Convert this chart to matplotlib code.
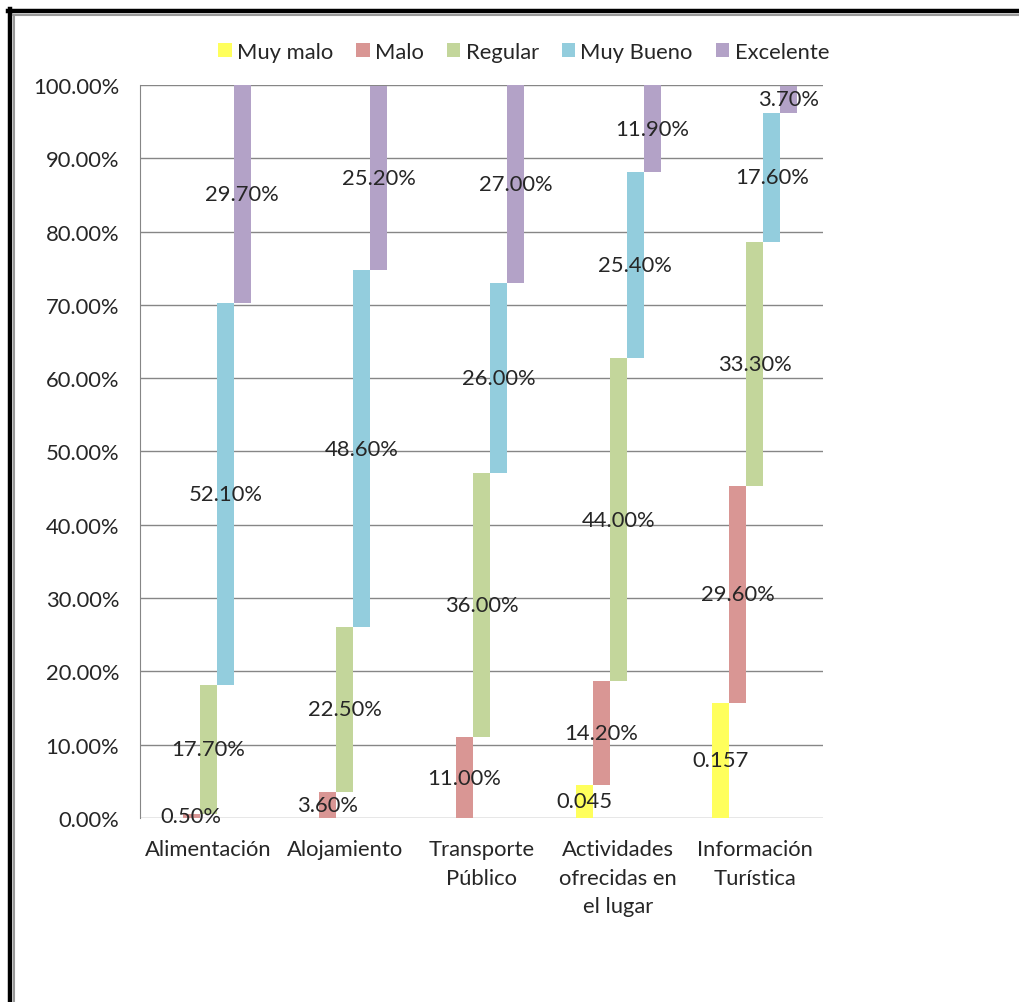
import numpy as np
import matplotlib.pyplot as plt
from matplotlib.lines import Line2D
from matplotlib.patches import Patch

plt.rcParams['font.family'] = ['Lato', 'DejaVu Sans']

# data
categorias = ["Alimentación", "Alojamiento", "Transporte\nPúblico",
              "Actividades\nofrecidas en\nel lugar", "Información\nTurística"]
series = ["Muy malo", "Malo", "Regular", "Muy Bueno", "Excelente"]
muy_malo = [0.0, 0.0, 0.0, 4.5, 15.7]
malo = [0.5, 3.6, 11.0, 14.2, 29.6]
regular = [17.7, 22.5, 36.0, 44.0, 33.3]
muy_bueno = [52.1, 48.6, 26.0, 25.4, 17.6]
excelente = [29.7, 25.2, 27.0, 11.9, 3.7]
colores = ["#FFFF5C", "#D99694", "#C3D69B", "#93CDDD", "#B3A2C7"]
yticks = np.arange(0, 101, 10)

FS = 15.8
TXT = "#262626"


def etiqueta(v, j):
    # the first series shows raw fractions, the rest as percent
    if j == 0:
        return f"{v / 100:g}"
    return f"{v:.2f}%"


def main():
    fig = plt.figure(figsize=(10.19, 10.03), dpi=100)
    ax = fig.add_axes([0.1374, 0.1835, 0.6703, 0.7308])

    datos = [muy_malo, malo, regular, muy_bueno, excelente]
    x = np.arange(len(categorias))
    w = 0.1245
    base = np.zeros(len(categorias))
    for j, vals in enumerate(datos):
        vals = np.array(vals)
        pos = x + (j - 2) * w
        ax.bar(pos, vals, w, bottom=base, color=colores[j], zorder=3)
        for i in range(len(vals)):
            if vals[i] > 0:
                ax.text(pos[i], base[i] + vals[i] / 2, etiqueta(vals[i], j),
                        ha="center", va="center", fontsize=FS, color=TXT, zorder=4)
        base = base + vals

    ax.set_xlim(-0.5, 4.5)
    ax.set_ylim(0, 100)
    ax.set_yticks(yticks)
    ax.set_yticklabels([f"{v:.2f}%" for v in yticks], fontsize=FS, color=TXT)
    ax.set_xticks(x)
    ax.set_xticklabels(categorias, fontsize=FS, color=TXT, linespacing=1.55)
    ax.tick_params(axis="both", length=0)
    ax.tick_params(axis="y", pad=15)
    ax.tick_params(axis="x", pad=15)
    ax.grid(axis="y", color="#868686", lw=1, zorder=1)
    for s in ["top", "right", "bottom"]:
        ax.spines[s].set_visible(False)
    ax.spines["left"].set_color("#868686")

    handles = [Patch(facecolor=c, edgecolor="none") for c in colores]
    fig.legend(handles, series, loc="center", bbox_to_anchor=(0.514, 0.947), ncol=5,
               frameon=False, fontsize=FS, labelcolor=TXT, handlelength=0.6, handleheight=0.6,
               handletextpad=0.25, columnspacing=1.05)

    # outer frame (only top and left visible)
    W, H = 1019, 1003
    fig.add_artist(Line2D([10 / W, 10 / W], [0, 1 - 10 / H], color="black", lw=3.2,
                          transform=fig.transFigure))
    fig.add_artist(Line2D([8 / W, 1], [1 - 12 / H, 1 - 12 / H], color="black", lw=3.2,
                          transform=fig.transFigure))
    fig.add_artist(Line2D([13.5 / W, 13.5 / W], [0, 1 - 15.5 / H], color="#999999", lw=1.5,
                          transform=fig.transFigure))
    fig.add_artist(Line2D([13 / W, 1], [1 - 15.5 / H, 1 - 15.5 / H], color="#999999", lw=1.5,
                          transform=fig.transFigure))

    fig.savefig("out.png", dpi=100)


main()
